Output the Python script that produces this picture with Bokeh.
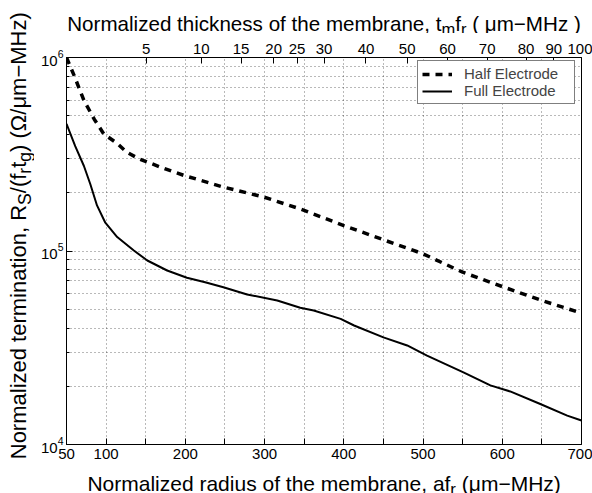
import math
from bokeh.plotting import figure
from bokeh.models import Range1d, FixedTicker, LinearAxis, Label, LogTickFormatter
from bokeh.layouts import row, column
from bokeh.embed import file_html
from bokeh.resources import INLINE

# ---------------- data ----------------
radius_half = [50, 60, 72, 85, 97, 115, 126, 141, 170, 198, 248, 299, 345, 400, 450, 500, 550, 600, 650, 700]
term_half = [1.0e6, 8.0e5, 6.0e5, 4.8e5, 4.03e5, 3.57e5, 3.24e5, 3.0e5, 2.7e5, 2.46e5, 2.14e5, 1.90e5,
             1.65e5, 1.354e5, 1.143e5, 9.67e4, 7.77e4, 6.55e4, 5.55e4, 4.77e4]

radius_full = [50, 61, 72, 80, 88.5, 99, 114, 135, 152, 177, 202, 225, 248, 278, 316, 345, 362, 396, 413,
               450, 480, 505, 551, 585, 610, 648, 682, 700]
term_full = [4.54e5, 3.48e5, 2.75e5, 2.22e5, 1.72e5, 1.40e5, 1.18e5, 1.006e5, 8.93e4, 7.93e4, 7.27e4, 6.9e4,
             6.50e4, 5.96e4, 5.55e4, 5.09e4, 4.93e4, 4.46e4, 4.12e4, 3.58e4, 3.25e4, 2.88e4, 2.36e4, 2.02e4,
             1.88e4, 1.62e4, 1.41e4, 1.33e4]

x_ticks = [50, 100, 150, 200, 250, 300, 350, 400, 450, 500, 550, 600, 650, 700]
x_tick_labels = ["50", "100", "", "200", "", "300", "", "400", "", "500", "", "600", "", "700"]

thickness_labels = ["5", "10", "15", "20", "25", "30", "40", "50", "60", "70", "80", "90", "100"]
thickness_at_radius = [150.4, 220.2, 270.3, 311.5, 341, 375, 428, 480, 531, 581, 630, 665, 700]

y_major = [1e4, 1e5, 1e6]
y_minor = [2e4, 3e4, 4e4, 5e4, 6e4, 7e4, 8e4, 9e4, 2e5, 3e5, 4e5, 5e5, 6e5, 7e5, 8e5, 9e5]

FONT = "Liberation Sans"
TICK_FS = "15px"
LW = 34              # width of the left title strip
TH, BH = 33, 27      # heights of the top / bottom title strips
BL, BR = 32, 11      # left / right borders of the main plot (shared by title strips)
BT, BB = 24, 22      # top / bottom borders of the main plot
FW, FH = 515, 387    # frame size

# ---------------- main figure ----------------
p = figure(width=BL + FW + BR, height=BT + FH + BB, frame_width=FW, frame_height=FH,
           x_range=Range1d(50, 700), y_range=Range1d(1e4, 1e6), y_axis_type="log",
           output_backend="svg", toolbar_location=None,
           min_border_left=BL, min_border_right=BR, min_border_top=BT, min_border_bottom=BB,
           background_fill_color="white", border_fill_color="white")
p.outline_line_color = "black"
p.outline_line_width = 1

xa = p.xaxis[0]
xticker = FixedTicker(ticks=x_ticks)
xa.ticker = xticker
xa.major_label_overrides = {t: l for t, l in zip(x_ticks, x_tick_labels)}
xa.major_tick_in = 6
xa.major_tick_out = 0
xa.minor_tick_line_color = None
xa.major_label_standoff = 4
xa.major_label_text_font = FONT
xa.major_label_text_font_size = TICK_FS
xa.major_label_text_color = "black"
xa.axis_line_color = "black"

ya = p.yaxis[0]
yticker = FixedTicker(ticks=y_major, minor_ticks=y_minor)
ya.ticker = yticker
ya.formatter = LogTickFormatter()
ya.major_tick_in = 6
ya.major_tick_out = 0
ya.minor_tick_in = 3
ya.minor_tick_out = 0
ya.major_label_standoff = 3
ya.major_label_text_font = FONT
ya.major_label_text_font_size = TICK_FS
ya.major_label_text_color = "black"
ya.axis_line_color = "black"

for g in p.xgrid:
    g.ticker = xticker
    g.grid_line_color = "black"
    g.grid_line_alpha = 0.55
    g.grid_line_dash = "1 3"
for g in p.ygrid:
    g.ticker = yticker
    g.grid_line_color = "black"
    g.grid_line_alpha = 0.55
    g.grid_line_dash = "1 3"
    g.minor_grid_line_color = "black"
    g.minor_grid_line_alpha = 0.55
    g.minor_grid_line_dash = "1 3"

top = LinearAxis(ticker=FixedTicker(ticks=thickness_at_radius),
                 major_label_overrides={r: t for r, t in zip(thickness_at_radius, thickness_labels)})
top.major_tick_in = 6
top.major_tick_out = 0
top.minor_tick_line_color = None
top.major_label_standoff = 4
top.major_label_text_font = FONT
top.major_label_text_font_size = TICK_FS
top.major_label_text_color = "black"
p.add_layout(top, "above")

p.line(radius_half, term_half, line_color="black", line_width=3.5, line_dash="7 6",
       legend_label="Half Electrode")
p.line(radius_full, term_full, line_color="black", line_width=2, legend_label="Full Electrode")

lg = p.legend[0]
lg.location = (351, 340)
lg.margin = 0
lg.padding = 4
lg.spacing = 0
lg.border_line_color = "black"
lg.border_line_width = 1
lg.background_fill_alpha = 1
lg.label_text_font = FONT
lg.label_text_font_size = "15px"
lg.label_height = 16
lg.glyph_height = 16
lg.glyph_width = 30
lg.label_standoff = 12
lg.label_width = 106

# ---------------- title strips (axis titles with subscripts) ----------------
ARIAL = {' ': 278, ',': 278, '(': 333, ')': 333, '/': 278, '\u2212': 584, '\u03bc': 576, '\u03a9': 768,
         'N': 722, 'M': 833, 'H': 722, 'R': 722, 'S': 667, 'a': 556, 'b': 556, 'c': 500, 'd': 556,
         'e': 556, 'f': 278, 'g': 556, 'h': 556, 'i': 222, 'k': 500, 'l': 222, 'm': 833, 'n': 556,
         'o': 556, 'r': 333, 's': 500, 't': 278, 'u': 556, 'z': 500}


def tw(s, size):
    return sum(ARIAL.get(c, 556) for c in s) * size / 1000.0


def strip(fw, fh, bl=0, br=0):
    f = figure(width=bl + fw + br, height=fh, frame_width=fw, frame_height=fh,
               x_range=Range1d(0, fw), y_range=Range1d(0, fh),
               x_axis_type=None, y_axis_type=None, output_backend="svg", toolbar_location=None,
               min_border=0, min_border_left=bl, min_border_right=br, min_border_top=0, min_border_bottom=0,
               background_fill_color="white", border_fill_color="white")
    f.outline_line_color = None
    return f


def add_title(f, pieces, size, along, across, vertical=False, sub_drop=0.27):
    sub = size * 0.8
    widths = [tw(t, sub if s else size) for t, s in pieces]
    pos = along - sum(widths) / 2.0
    for (t, s), w in zip(pieces, widths):
        fs = sub if s else size
        off = size * sub_drop if s else 0.0
        lead = tw(t[:len(t) - len(t.lstrip(' '))], fs)   # SVG drops leading blanks: shift instead
        txt = t.strip(' ')
        if vertical:
            lab = Label(x=across + off, y=pos + lead, text=txt, angle=math.pi / 2,
                        text_align="left", text_baseline="alphabetic")
        else:
            lab = Label(x=pos + lead, y=across - off, text=txt, text_align="left", text_baseline="alphabetic")
        lab.text_font = FONT
        lab.text_font_size = "%.1fpx" % fs
        lab.text_color = "black"
        f.add_layout(lab)
        pos += w


ft = strip(FW, TH, BL, BR)
add_title(ft, [("Normalized thickness of the membrane, t", False), ("m", True), ("f", False), ("r", True),
               (" ( \u03bcm\u2212MHz )", False)], 20.6, 257.5, TH - 23.4)

fb = strip(FW, BH, BL, BR)
add_title(fb, [("Normalized radius of the membrane, af", False), ("r", True), (" (\u03bcm\u2212MHz)", False)],
          21, 257.6, 10)

fl = strip(LW, 493)
add_title(fl, [("Normalized termination, R", False), ("S", True), ("/(f", False), ("r", True), ("t", False),
               ("g", True), (") (\u03a9/\u03bcm\u2212MHz)", False)], 22, 258, 18.3, vertical=True, sub_drop=0.3)

layout = row(fl, column(ft, p, fb, spacing=0), spacing=0)

open("out.html", "w").write(file_html(layout, INLINE))
